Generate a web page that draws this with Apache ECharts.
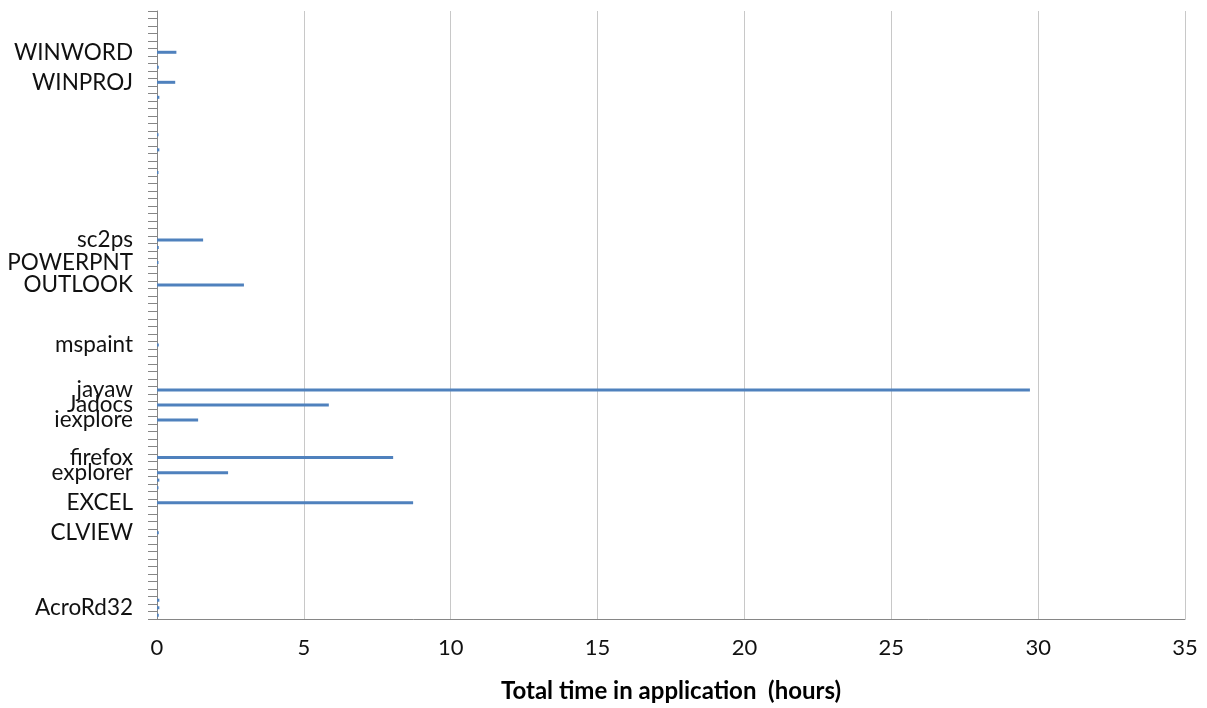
<!DOCTYPE html>
<html>
<head>
<meta charset="utf-8">
<script src="https://cdn.jsdelivr.net/npm/echarts@6/dist/echarts.min.js"></script>
<style>
	html,body{margin:0;padding:0;background:#fff;}
	#main{width:1207px;height:708px;}
</style>
</head>
<body>
<div id="main"></div>
<script>
// categories from the bottom of the axis up, unnamed rows are blank
var appNames = [
	'', 'AcroRd32', '', '', '', '', '', '', '', '',
	'', 'CLVIEW', '', '', '', 'EXCEL', '', '', '', 'explorer',
	'', 'firefox', '', '', '', '', 'iexplore', '', 'Jadocs', '',
	'jayaw', '', '', '', '', '', 'mspaint', '', '', '',
	'', '', '', '', 'OUTLOOK', '', '', 'POWERPNT', '', '',
	'sc2ps', '', '', '', '', '', '', '', '', '',
	'', '', '', '', '', '', '', '', '', '',
	'', 'WINPROJ', '', '', '', 'WINWORD', '', '', '', '',
	''
];

// hours per row, same order as appNames ('-' = no bar)
var hoursUsed = [
	0.06, 0.08, 0.08, '-', '-', '-', '-', '-', '-', '-',
	'-', 0.06, '-', '-', '-', 8.72, '-', 0.05, 0.08, 2.42,
	'-', 8.04, '-', '-', '-', '-', 1.4, '-', 5.85, '-',
	29.72, '-', '-', '-', '-', '-', 0.06, '-', '-', '-',
	'-', '-', '-', '-', 2.96, '-', '-', 0.05, '-', 0.06,
	1.57, '-', '-', '-', '-', '-', '-', '-', '-', 0.05,
	'-', '-', 0.08, '-', 0.05, '-', '-', '-', '-', 0.08,
	'-', 0.62, '-', 0.06, '-', 0.66, '-', '-', '-', '-',
	'-'
];

var xTicks = [0, 5, 10, 15, 20, 25, 30, 35];

var axisGray = '#868686';
var gridGray = '#C8C8C8';
var barBlue = '#4F81BD';
var fontName = 'Lato';

var chart = echarts.init(document.getElementById('main'), null, {renderer: 'canvas'});

chart.setOption({
	animation: false,
	grid: {
		left: 157,
		right: 22,
		top: 11,
		bottom: 89,
		containLabel: false
	},
	xAxis: {
		type: 'value',
		min: xTicks[0],
		max: xTicks[xTicks.length - 1],
		interval: 5,
		name: 'Total time in application  (hours)',
		nameLocation: 'middle',
		nameGap: 60,
		nameTextStyle: {
			fontFamily: fontName,
			fontSize: 24,
			fontWeight: 'bold',
			color: '#000'
		},
		axisLine: {show: true, lineStyle: {color: axisGray, width: 1}},
		axisTick: {show: false},
		axisLabel: {
			margin: 18,
			fontFamily: fontName,
			fontSize: 22,
			color: '#111'
		},
		splitLine: {show: true, lineStyle: {color: gridGray, width: 1}}
	},
	yAxis: {
		type: 'category',
		data: appNames,
		boundaryGap: true,
		axisLine: {show: true, lineStyle: {color: axisGray, width: 1}},
		axisTick: {show: true, interval: 0, length: 9, inside: false, lineStyle: {color: axisGray}},
		axisLabel: {
			interval: 0,
			margin: 24,
			fontFamily: fontName,
			fontSize: 22.5,
			color: '#111'
		},
		splitLine: {show: false}
	},
	series: [
		{
			name: 'hours',
			type: 'bar',
			data: hoursUsed,
			barWidth: 3,
			itemStyle: {color: barBlue}
		}
	]
});
</script>
</body>
</html>
